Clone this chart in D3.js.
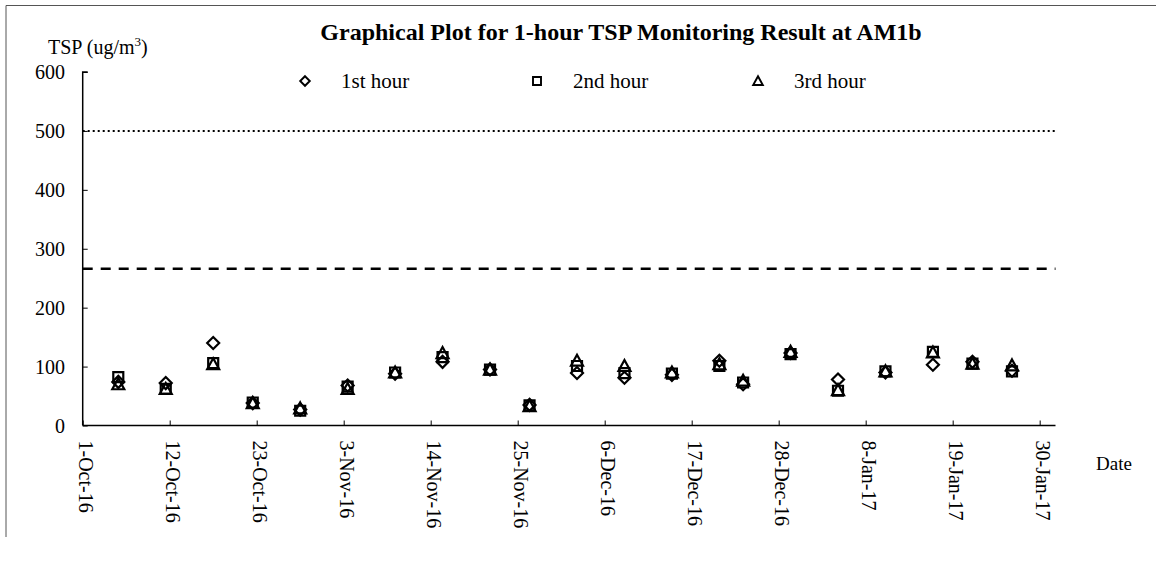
<!DOCTYPE html>
<html lang="en">
<head>
    <meta charset="UTF-8">
    <title>Graphical Plot for 1-hour TSP Monitoring Result at AM1b</title>
    <script src="https://d3js.org/d3.v7.min.js"></script>
    <style>
        body {
            margin: 0;
            background: #fff;
            font-family: "Liberation Serif", "Times New Roman", serif;
        }
        svg text {
            fill: #000;
        }
    </style>
</head>
<body>
    <div id="chart"></div>
    <script>
        // values
        const dates = ["2016-10-05", "2016-10-11", "2016-10-17", "2016-10-22", "2016-10-28", "2016-11-03",
            "2016-11-09", "2016-11-15", "2016-11-21", "2016-11-26", "2016-12-02", "2016-12-08",
            "2016-12-14", "2016-12-20", "2016-12-23", "2016-12-29", "2017-01-04", "2017-01-10",
            "2017-01-16", "2017-01-21", "2017-01-26"];
        const hour1 = [74, 72, 140, 38, 27, 68, 88, 108, 95, 35, 89, 81, 86, 110, 70, 123, 78, 90, 103, 108, 93];
        const hour2 = [82, 62, 106, 39, 25, 66, 90, 116, 95, 34, 101, 89, 88, 101, 73, 121, 59, 92, 125, 105, 92];
        const hour3 = [70, 62, 104, 38, 29, 62, 90, 123, 95, 33, 110, 101, 90, 104, 76, 125, 60, 92, 124, 105, 102];
        const seriesNames = ["1st hour", "2nd hour", "3rd hour"];
        const xTicks = ["2016-10-01", "2016-10-12", "2016-10-23", "2016-11-03", "2016-11-14", "2016-11-25",
            "2016-12-06", "2016-12-17", "2016-12-28", "2017-01-08", "2017-01-19", "2017-01-30"];
        const yTicks = [0, 100, 200, 300, 400, 500, 600];
        const limitLevel = 500;
        const actionLevel = 266;

        const width = 1156;
        const height = 563;
        const parse = d3.utcParse("%Y-%m-%d");
        const fmt = d3.utcFormat("%-d-%b-%y");

        const svg = d3.select('#chart')
            .append('svg')
            .attr('width', width)
            .attr('height', height);

        // chart frame (cropped from a page, only top and left edges show)
        svg.append('path')
            .attr('d', 'M6,537V5.5H1156')
            .attr('fill', 'none')
            .attr('stroke', '#555')
            .attr('stroke-width', 1);

        const x = d3.scaleUtc()
            .domain([parse("2016-10-01"), parse("2017-02-01")])
            .range([82.7, 1055.5]);
        const y = d3.scaleLinear().domain([0, 600]).range([425.5, 72]);

        // points sit in the middle of their day (Excel date axis)
        const xp = s => x(d3.utcHour.offset(parse(s), 12));

        // reference lines
        svg.append('line')
            .attr('x1', x.range()[0]).attr('x2', x.range()[1])
            .attr('y1', y(limitLevel)).attr('y2', y(limitLevel))
            .attr('stroke', '#000').attr('stroke-width', 2)
            .attr('stroke-dasharray', '2,3');
        svg.append('line')
            .attr('x1', x.range()[0]).attr('x2', x.range()[1])
            .attr('y1', y(actionLevel)).attr('y2', y(actionLevel))
            .attr('stroke', '#000').attr('stroke-width', 2.5)
            .attr('stroke-dasharray', '10,8');

        // y axis
        const yAxis = svg.append('g')
            .attr('transform', `translate(${x.range()[0]},0)`)
            .call(d3.axisRight(y).tickValues(yTicks).tickSize(5).tickFormat(''));
        yAxis.select('.domain').attr('stroke', '#000').attr('stroke-width', 1.5).attr('d', `M5,${y(600)}H0V${y(0)}`);
        yAxis.selectAll('.tick line').attr('stroke', '#000');
        svg.selectAll('.ylab')
            .data(yTicks)
            .enter().append('text')
            .attr('class', 'ylab')
            .attr('x', 65)
            .attr('y', d => y(d) + 7)
            .attr('text-anchor', 'end')
            .style('font-size', '20px')
            .text(d => d);

        // x axis
        const xAxis = svg.append('g')
            .attr('transform', `translate(0,${y(0)})`)
            .call(d3.axisTop(x).tickValues(xTicks.map(parse)).tickSize(5).tickFormat(''));
        xAxis.select('.domain').attr('stroke', '#000').attr('stroke-width', 1.5).attr('d', `M${x.range()[0]},0H${x.range()[1]}`);
        xAxis.selectAll('.tick line').attr('stroke', '#000');
        svg.selectAll('.xlab')
            .data(xTicks)
            .enter().append('text')
            .attr('class', 'xlab')
            .attr('transform', d => `translate(${x(parse(d)) - 4},${y(0) + 15}) rotate(90)`)
            .style('font-size', '20px')
            .text(d => fmt(parse(d)));

        // marker shapes
        const shapes = [
            'M0,-6L6,0L0,6L-6,0Z',
            'M-5,-5H5V5H-5Z',
            'M0,-6L6,5H-6Z'
        ];
        const series = [hour1, hour2, hour3];

        series.forEach((vals, i) => {
            svg.selectAll(`.pt${i}`)
                .data(vals)
                .enter().append('path')
                .attr('class', `pt${i}`)
                .attr('d', shapes[i])
                .attr('transform', (d, j) => `translate(${xp(dates[j])},${y(d)})`)
                .attr('fill', 'none')
                .attr('stroke', '#000')
                .attr('stroke-width', 2.2);
        });

        // legend
        const legendX = [305, 537, 758];
        seriesNames.forEach((name, i) => {
            svg.append('path')
                .attr('d', shapes[i])
                .attr('transform', `translate(${legendX[i]},81) scale(0.8)`)
                .attr('fill', 'none')
                .attr('stroke', '#000')
                .attr('stroke-width', 2.4);
            svg.append('text')
                .attr('x', legendX[i] + 36)
                .attr('y', 88)
                .style('font-size', '21px')
                .text(name);
        });

        // title and axis titles
        svg.append('text')
            .attr('x', 621)
            .attr('y', 40)
            .attr('text-anchor', 'middle')
            .style('font-size', '24px')
            .style('font-weight', 'bold')
            .text('Graphical Plot for 1-hour TSP Monitoring Result at AM1b');

        const yTitle = svg.append('text')
            .attr('x', 48)
            .attr('y', 54)
            .style('font-size', '20px');
        yTitle.append('tspan').text('TSP (ug/m');
        yTitle.append('tspan').attr('dy', -8).style('font-size', '13px').text('3');
        yTitle.append('tspan').attr('dy', 8).text(')');

        svg.append('text')
            .attr('x', 1096)
            .attr('y', 470)
            .style('font-size', '19px')
            .text('Date');
    </script>
</body>
</html>
